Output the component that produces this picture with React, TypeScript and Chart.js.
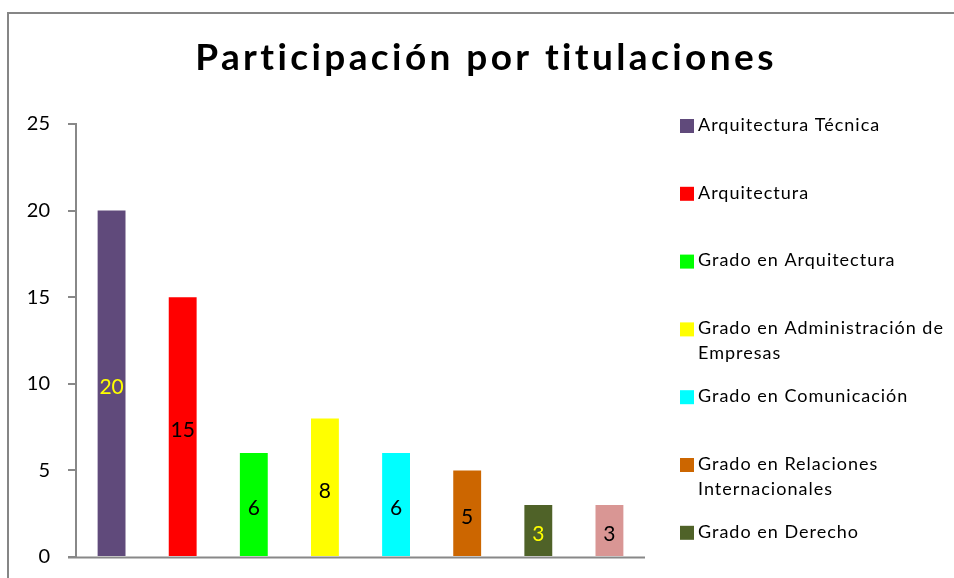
import React, { useEffect, useRef } from "react";
import { Chart, registerables } from "chart.js";

Chart.register(...registerables);

const title = "Participación por titulaciones";
const categories = [
  "Arquitectura Técnica",
  "Arquitectura",
  "Grado en Arquitectura",
  "Grado en Administración de Empresas",
  "Grado en Comunicación",
  "Grado en Relaciones Internacionales",
  "Grado en Derecho",
  "Otras titulaciones",
];
const values = [20, 15, 6, 8, 6, 5, 3, 3];
const barColors = [
  "#604A7B",
  "#FF0000",
  "#00FF00",
  "#FFFF00",
  "#00FFFF",
  "#CC6600",
  "#4F6228",
  "#D99694",
];
const labelColors = [
  "#FFFF00",
  "#000000",
  "#000000",
  "#000000",
  "#000000",
  "#000000",
  "#FFFF00",
  "#000000",
];
const yTicks = [0, 5, 10, 15, 20, 25];

const FONT = "Lato, 'Open Sans', sans-serif";

function wrap(ctx: CanvasRenderingContext2D, text: string, maxW: number): string[] {
  const words = text.split(" ");
  const lines: string[] = [];
  let cur = "";
  for (const w of words) {
    const t = cur ? cur + " " + w : w;
    if (ctx.measureText(t).width > maxW && cur) {
      lines.push(cur);
      cur = w;
    } else cur = t;
  }
  if (cur) lines.push(cur);
  return lines;
}

const decor = {
  id: "decor",
  beforeDraw(chart: any) {
    const ctx = chart.ctx;
    ctx.save();
    ctx.fillStyle = "#ffffff";
    ctx.fillRect(0, 0, chart.width, chart.height);
    ctx.strokeStyle = "#868686";
    ctx.lineWidth = 2;
    ctx.strokeRect(8, 13, 1200, 1200);
    ctx.restore();
  },
  afterDraw(chart: any) {
    const ctx = chart.ctx;
    const area = chart.chartArea;
    ctx.save();
    // x axis line
    ctx.strokeStyle = "#888888";
    ctx.lineWidth = 2;
    ctx.beginPath();
    ctx.moveTo(area.left - 8, area.bottom + 0.5);
    ctx.lineTo(area.right, area.bottom + 0.5);
    ctx.stroke();

    // title
    ctx.fillStyle = "#000000";
    ctx.font = `bold 37px ${FONT}`;
    (ctx as any).letterSpacing = "3.4px";
    ctx.textAlign = "left";
    ctx.textBaseline = "alphabetic";
    const tw = ctx.measureText(title).width;
    ctx.fillText(title, 486 - tw / 2, 70);

    // data labels
    (ctx as any).letterSpacing = "0px";
    const meta = chart.getDatasetMeta(0);
    ctx.font = `21px ${FONT}`;
    ctx.textAlign = "center";
    ctx.textBaseline = "middle";
    meta.data.forEach((bar: any, i: number) => {
      ctx.fillStyle = labelColors[i];
      ctx.fillText(String(values[i]), bar.x, (bar.y + bar.base) / 2 + 4);
    });

    // legend
    ctx.font = `18px ${FONT}`;
    (ctx as any).letterSpacing = "1px";
    ctx.textAlign = "left";
    categories.forEach((c, i) => {
      const cy = 125 + i * 67.8;
      ctx.fillStyle = barColors[i];
      ctx.fillRect(680, cy - 6, 14, 14);
      ctx.fillStyle = "#000000";
      const lines = wrap(ctx, c, 256);
      lines.forEach((ln, j) => ctx.fillText(ln, 698, cy + j * 25));
    });
    ctx.restore();
  },
};

export default function App() {
  const ref = useRef<HTMLCanvasElement | null>(null);
  useEffect(() => {
    if (!ref.current) return;
    const chart = new Chart(ref.current, {
      type: "bar",
      data: {
        labels: categories,
        datasets: [
          {
            data: values,
            backgroundColor: barColors,
            barPercentage: 0.8,
            categoryPercentage: 0.49,
          },
        ],
      },
      options: {
        responsive: false,
        animation: false,
        layout: { padding: { left: 0, top: 124, right: 309, bottom: 21 } },
        plugins: { legend: { display: false }, tooltip: { enabled: false }, title: { display: false } },
        scales: {
          x: {
            grid: { display: false },
            border: { display: false },
            ticks: { display: false },
            afterFit: (s: any) => {
              s.height = 0;
              s.paddingLeft = 0;
              s.paddingRight = 0;
            },
          },
          y: {
            min: 0,
            max: 25,
            afterBuildTicks: (s: any) => {
              s.ticks = yTicks.map((v) => ({ value: v }));
            },
            ticks: {
              color: "#000000",
              font: { family: FONT, size: 20 },
              padding: 18,
            },
            grid: {
              drawOnChartArea: false,
              drawTicks: true,
              tickLength: 8,
              color: "#888888",
              lineWidth: 2,
            },
            border: { display: true, color: "#888888", width: 2 },
            afterFit: (s: any) => {
              s.width = 76;
              s.paddingTop = 0;
              s.paddingBottom = 0;
            },
          },
        },
      },
      plugins: [decor],
    });
    return () => chart.destroy();
  }, []);
  return (
    <canvas
      ref={ref}
      width={954}
      height={578}
      style={{ position: "absolute", left: 0, top: 0, width: 954, height: 578 }}
    />
  );
}
